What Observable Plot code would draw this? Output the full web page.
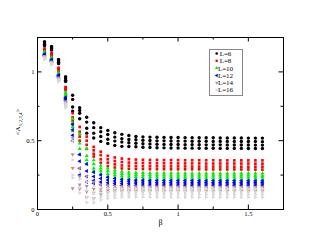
<!DOCTYPE html>
<html><head><meta charset="utf-8">
<script src="https://cdn.jsdelivr.net/npm/d3@7"></script>
<script src="https://cdn.jsdelivr.net/npm/@observablehq/plot@0.6"></script>
<style>html,body{margin:0;padding:0;background:#fff;}</style>
</head><body><div id="chart"></div>
<script>
const betas = [0.05,0.1,0.15,0.2,0.25,0.3,0.35,0.4,0.45,0.5,0.55,0.6,0.65,0.7,0.75,0.8,0.85,0.9,0.95,1.0,1.05,1.1,1.15,1.2,1.25,1.3,1.35,1.4,1.45,1.5,1.55,1.6];
const seriesNames = ["L=6","L=8","L=10","L=12","L=14","L=16"];
const seriesColors = ["#000000","#ff0000","#00ee00","#0000ff","#bc8f8f","#d8d8d8"];
const xMajor = [0,0.5,1,1.5];
const xMinor = [0.25,0.75,1.25];
const yMajor = [0,0.5,1];
const yMinor = [0.25,0.75];

const L6 = [
[1.22,1.21,1.20,1.19],[1.185,1.175,1.168,1.16],[1.09,1.08,1.07,1.06],[0.965,0.955,0.94,0.93],
[0.83,0.80,0.745,0.715],[0.74,0.72,0.70,0.66],[0.67,0.635,0.59,0.555],[0.63,0.595,0.555,0.52],
[0.595,0.565,0.53,0.495],[0.575,0.545,0.51,0.48],[0.558,0.526,0.497,0.466],[0.546,0.514,0.49,0.459],
[0.538,0.509,0.485,0.458],[0.531,0.507,0.482,0.456],[0.528,0.503,0.478,0.452],[0.526,0.501,0.476,0.451],
[0.525,0.499,0.474,0.449],[0.524,0.499,0.473,0.448],[0.523,0.498,0.472,0.447],[0.523,0.497,0.472,0.447],
[0.522,0.497,0.471,0.446],[0.522,0.496,0.471,0.446],[0.521,0.496,0.471,0.445],[0.521,0.496,0.470,0.445],
[0.521,0.495,0.470,0.445],[0.520,0.495,0.470,0.444],[0.520,0.495,0.469,0.444],[0.520,0.494,0.469,0.444],
[0.520,0.494,0.469,0.444],[0.519,0.494,0.469,0.443],[0.519,0.494,0.468,0.443],[0.519,0.493,0.468,0.443]];
const L8 = [
[1.17,1.162,1.156,1.15],[1.14,1.13,1.12,1.11],[1.03,1.02,1.01,1.0],[0.89,0.882,0.875,0.866],
[0.70,0.67,0.645,0.62],[0.60,0.565,0.53,0.50],[0.53,0.50,0.47,0.44],[0.455,0.43,0.405,0.385],
[0.42,0.395,0.365,0.34],[0.39,0.365,0.34,0.315],[0.378,0.352,0.328,0.305],[0.37,0.345,0.32,0.298],
[0.366,0.341,0.318,0.296],[0.363,0.339,0.316,0.295],[0.361,0.338,0.315,0.294],[0.360,0.337,0.314,0.293],
[0.360,0.336,0.314,0.293],[0.359,0.336,0.313,0.293],[0.359,0.336,0.313,0.292],[0.359,0.335,0.313,0.292],
[0.358,0.335,0.313,0.292],[0.358,0.335,0.312,0.292],[0.358,0.335,0.312,0.292],[0.358,0.334,0.312,0.291],
[0.358,0.334,0.312,0.291],[0.357,0.334,0.312,0.291],[0.357,0.334,0.312,0.291],[0.357,0.334,0.311,0.291],
[0.357,0.334,0.311,0.291],[0.357,0.334,0.311,0.291],[0.357,0.333,0.311,0.290],[0.357,0.333,0.311,0.290]];
const L10 = [
[1.145,1.14,1.135,1.13],[1.105,1.10,1.095,1.088],[0.995,0.99,0.984,0.978],[0.85,0.842,0.835,0.826],
[0.66,0.63,0.60,0.57],[0.55,0.48,0.44,0.40],[0.44,0.39,0.36,0.33],[0.36,0.33,0.30,0.28],
[0.32,0.30,0.28,0.26],[0.30,0.28,0.26,0.24],[0.285,0.268,0.25,0.232],[0.275,0.26,0.243,0.226],
[0.270,0.255,0.239,0.223],[0.267,0.252,0.237,0.221],[0.266,0.251,0.236,0.221],[0.265,0.250,0.235,0.220],
[0.265,0.250,0.235,0.220],[0.264,0.250,0.235,0.220],[0.264,0.249,0.234,0.219],[0.264,0.249,0.234,0.219],
[0.263,0.249,0.234,0.219],[0.263,0.249,0.234,0.219],[0.263,0.248,0.234,0.219],[0.263,0.248,0.233,0.219],
[0.263,0.248,0.233,0.218],[0.262,0.248,0.233,0.218],[0.262,0.248,0.233,0.218],[0.262,0.248,0.233,0.218],
[0.262,0.248,0.233,0.218],[0.262,0.248,0.233,0.218],[0.262,0.247,0.233,0.218],[0.262,0.247,0.233,0.218]];
const L12 = [
[1.13,1.125,1.12,1.115],[1.09,1.085,1.08,1.075],[0.978,0.972,0.966,0.96],[0.815,0.808,0.80,0.79],
[0.62,0.58,0.54,0.50],[0.40,0.35,0.30,0.25],[0.33,0.28,0.24,0.20],[0.27,0.24,0.21,0.19],
[0.25,0.225,0.20,0.18],[0.235,0.215,0.195,0.178],[0.225,0.208,0.19,0.176],[0.218,0.203,0.188,0.175],
[0.215,0.201,0.187,0.175],[0.213,0.200,0.187,0.174],[0.212,0.199,0.186,0.174],[0.211,0.199,0.186,0.174],
[0.211,0.198,0.186,0.174],[0.210,0.198,0.186,0.174],[0.210,0.198,0.186,0.174],[0.210,0.198,0.186,0.173],
[0.210,0.198,0.186,0.173],[0.210,0.198,0.185,0.173],[0.209,0.197,0.185,0.173],[0.209,0.197,0.185,0.173],
[0.209,0.197,0.185,0.173],[0.209,0.197,0.185,0.173],[0.209,0.197,0.185,0.173],[0.209,0.197,0.185,0.173],
[0.209,0.197,0.185,0.173],[0.209,0.197,0.185,0.173],[0.208,0.197,0.185,0.173],[0.208,0.197,0.185,0.173]];
const L14 = [
[1.115,1.11,1.105,1.10],[1.075,1.07,1.065,1.06],[0.958,0.952,0.946,0.94],[0.785,0.778,0.77,0.76],
[0.52,0.40,0.30,0.154],[0.30,0.24,0.18,0.15],[0.24,0.17,0.13,0.09],[0.20,0.15,0.12,0.08],
[0.18,0.15,0.13,0.11],[0.175,0.155,0.14,0.125],[0.17,0.155,0.142,0.13],[0.168,0.155,0.143,0.132],
[0.167,0.155,0.143,0.132],[0.167,0.154,0.143,0.132],[0.166,0.154,0.143,0.132],[0.166,0.154,0.143,0.132],
[0.166,0.154,0.143,0.132],[0.166,0.154,0.143,0.132],[0.166,0.154,0.142,0.131],[0.166,0.154,0.142,0.131],
[0.165,0.154,0.142,0.131],[0.165,0.154,0.142,0.131],[0.165,0.154,0.142,0.131],[0.165,0.153,0.142,0.131],
[0.165,0.153,0.142,0.131],[0.165,0.153,0.142,0.131],[0.165,0.153,0.142,0.131],[0.165,0.153,0.142,0.131],
[0.165,0.153,0.142,0.131],[0.165,0.153,0.142,0.131],[0.165,0.153,0.142,0.131],[0.165,0.153,0.142,0.131]];
const L16 = [
[1.105,1.10,1.095,1.09],[1.065,1.06,1.055,1.05],[0.945,0.94,0.935,0.93],[0.77,0.76,0.75,0.74],
[0.50,0.36,0.25,0.23],[0.27,0.22,0.16,0.12],[0.20,0.14,0.09,0.05],[0.17,0.12,0.08,0.05],
[0.16,0.12,0.09,0.07],[0.155,0.125,0.10,0.08],[0.153,0.128,0.105,0.085],[0.152,0.13,0.11,0.09],
[0.152,0.131,0.110,0.090],[0.151,0.131,0.110,0.090],[0.151,0.130,0.110,0.090],[0.151,0.130,0.110,0.090],
[0.151,0.130,0.110,0.090],[0.150,0.130,0.110,0.090],[0.150,0.130,0.110,0.089],[0.150,0.130,0.110,0.089],
[0.150,0.130,0.109,0.089],[0.150,0.130,0.109,0.089],[0.150,0.130,0.109,0.089],[0.150,0.129,0.109,0.089],
[0.150,0.129,0.109,0.089],[0.150,0.129,0.109,0.089],[0.150,0.129,0.109,0.089],[0.150,0.129,0.109,0.089],
[0.150,0.129,0.109,0.089],[0.150,0.129,0.109,0.089],[0.150,0.129,0.109,0.089],[0.150,0.129,0.109,0.089]];
const seriesValues = [L6, L8, L10, L12, L14, L16];

// custom triangle symbols
const sq3 = Math.sqrt(3);
const triDown = {draw(c, size){const y=-Math.sqrt(size/(sq3*3)); c.moveTo(0,-y*2); c.lineTo(-sq3*y,y); c.lineTo(sq3*y,y); c.closePath();}};
const triLeft = {draw(c, size){const y=-Math.sqrt(size/(sq3*3)); c.moveTo(y*2,0); c.lineTo(-y,-sq3*y); c.lineTo(-y,sq3*y); c.closePath();}};
const triRight = {draw(c, size){const y=-Math.sqrt(size/(sq3*3)); c.moveTo(-y*2,0); c.lineTo(y,-sq3*y); c.lineTo(y,sq3*y); c.closePath();}};
const seriesSymbols = [d3.symbolCircle, d3.symbolSquare, d3.symbolTriangle, triLeft, triDown, triRight];
const seriesR = [1.7, 1.5, 1.5, 1.5, 1.5, 1.5];

const tables = seriesValues.map(vals => betas.flatMap((b, i) => vals[i].map(v => ({beta: b, value: v}))));

const W = 319, H = 247, mT = 37, mB = 38, mL = 37, mR = 36;
const innerH = H - mT - mB, innerW = W - mL - mR;
const serif = "'Liberation Serif', 'Times New Roman', serif";

const plot = Plot.plot({
  width: W, height: H,
  marginTop: mT, marginBottom: mB, marginLeft: mL, marginRight: mR,
  x: {domain: [0, 1.75]},
  y: {domain: [0, 1.25]},
  style: {fontFamily: serif, background: "#fff", color: "#000"},
  marks: [
    ...tables.map((t, k) => Plot.dot(t, {x: "beta", y: "value", fill: seriesColors[k], stroke: "none", symbol: seriesSymbols[k], r: seriesR[k]})),
    Plot.frame({stroke: "#000", strokeWidth: 1}),
    Plot.tickX(xMajor, {x: d => d, insetTop: innerH - 4.5, stroke: "#000"}),
    Plot.tickX(xMinor, {x: d => d, insetTop: innerH - 2.5, stroke: "#000"}),
    Plot.tickX(xMajor, {x: d => d, insetBottom: innerH - 4.5, stroke: "#000"}),
    Plot.tickX(xMinor, {x: d => d, insetBottom: innerH - 2.5, stroke: "#000"}),
    Plot.tickY(yMajor, {y: d => d, insetRight: innerW - 4.5, stroke: "#000"}),
    Plot.tickY(yMinor, {y: d => d, insetRight: innerW - 2.5, stroke: "#000"}),
    Plot.tickY(yMajor, {y: d => d, insetLeft: innerW - 4.5, stroke: "#000"}),
    Plot.tickY(yMinor, {y: d => d, insetLeft: innerW - 2.5, stroke: "#000"}),
    Plot.axisX({ticks: xMajor, tickSize: 0, tickPadding: 2, fontSize: 6.6, tickFormat: d => String(d), label: null}),
    Plot.axisY({ticks: yMajor, tickSize: 0, tickPadding: 3, fontSize: 6.6, tickFormat: d => String(d), label: null}),
    Plot.text(["β"], {frameAnchor: "bottom", dy: 15, fontSize: 8, fill: "#000"})
  ]
});
document.getElementById("chart").appendChild(plot);

const svg = d3.select(plot);
const yl = svg.append("text")
  .attr("transform", `translate(20,${mT + innerH/2 - 1}) rotate(-90)`)
  .attr("text-anchor", "middle")
  .attr("font-family", serif).attr("font-size", 7).attr("fill", "#000");
yl.append("tspan").text("<A");
yl.append("tspan").attr("font-size", 5).attr("dy", 1.5).text("1,2,3,4");
yl.append("tspan").attr("dy", -1.5).text(">");

const lg = svg.append("g");
lg.append("rect").attr("x", 209.5).attr("y", 49.5).attr("width", 33).attr("height", 46)
  .attr("fill", "#fff").attr("stroke", "#888").attr("stroke-width", 1);
seriesNames.forEach((name, k) => {
  const cy = 53.5 + k * 7.3;
  const sz = Math.PI * 1.3 * 1.3;
  lg.append("path").attr("transform", `translate(216.7,${cy})`)
    .attr("d", d3.symbol(seriesSymbols[k], sz)()).attr("fill", seriesColors[k]);
  lg.append("text").attr("x", 225.5).attr("y", cy).attr("dy", "0.35em")
    .attr("font-family", serif).attr("font-size", 7).attr("fill", "#000").text(name);
});
</script>
</body></html>
